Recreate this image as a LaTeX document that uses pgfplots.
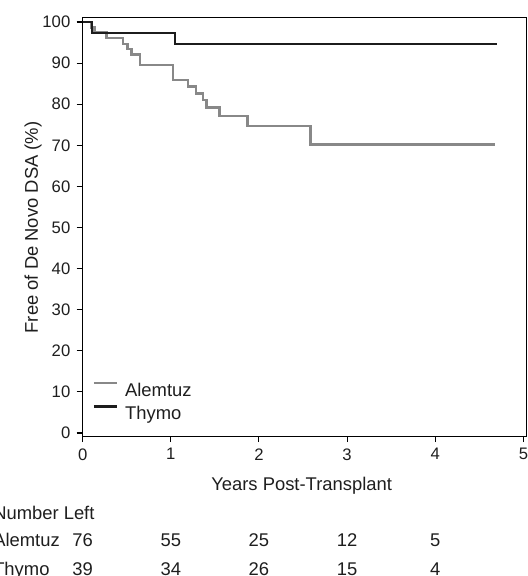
\documentclass[border=0pt]{standalone}
\usepackage{fontspec}
\setmainfont{Liberation Sans}
\usepackage{pgfplots}
\pgfplotsset{compat=1.18}
\definecolor{alem}{RGB}{136,136,136}
\definecolor{thy}{RGB}{28,28,28}
\definecolor{txt}{RGB}{30,30,30}
\begin{document}
\fontsize{13.8pt}{16pt}\selectfont
\begin{tikzpicture}
\begin{axis}[
  scale only axis, width=333.2pt, height=314.3pt,
  xmin=0, xmax=5.04, ymin=-0.75, ymax=101.2,
  xtick={0,1,2,3,4,5}, ytick={0,10,...,100},
  tick align=outside, xtick pos=bottom, ytick pos=left,
  major tick length=4.5pt,
  axis line style={line width=0.8pt, black},
  every tick/.style={line width=0.8pt, black},
  /pgf/number format/assume math mode=true,
  tick label style={text=txt, font=\fontsize{12.5pt}{14pt}\selectfont},
  clip=false,
  xlabel={Years Post-Transplant},
  ylabel={Free of De Novo DSA (\%)},
  xlabel style={at={(axis description cs:0.4929,-0.1192)}, anchor=center, text=txt},
  ylabel style={at={(axis description cs:-0.1118,0.4978)}, anchor=center, text=txt},
  legend style={at={(axis cs:0.114,3.24)}, anchor=south west, draw=none, fill=none,
    inner sep=0pt, outer sep=0pt, row sep=6.5pt,
    nodes={inner sep=0pt, text height=10pt, text depth=0pt, text=txt},
    /tikz/every odd column/.append style={column sep=5pt}},
  legend cell align=left,
  legend image code/.code={\draw[#1] (0pt,5pt) -- (17.5pt,5pt);},
]
\addplot[const plot, color=alem, line width=1.8pt] coordinates {
  (0,100) (0.098,98.7) (0.135,97.4) (0.271,96.1) (0.457,94.7) (0.510,93.4)
  (0.552,92.1) (0.649,89.5) (1.026,85.9) (1.194,84.3) (1.284,82.6) (1.368,81.0)
  (1.403,79.2) (1.552,77.1) (1.869,74.7) (2.584,70.2) (4.678,70.2)
};
\addlegendentry{Alemtuz}
\addplot[const plot, color=thy, line width=1.8pt] coordinates {
  (0,100) (0.108,97.3) (1.046,94.6) (4.698,94.6)
};
\addlegendentry{Thymo}
% number at risk table
\node[anchor=base west, inner sep=0pt, text=txt] at (axis cs:-1.0175,-21.0) {Number Left};
\node[anchor=base west, inner sep=0pt, text=txt] at (axis cs:-1.0175,-27.7) {Alemtuz};
\node[anchor=base west, inner sep=0pt, text=txt] at (axis cs:-1.0175,-34.55) {Thymo};
\node[anchor=base, inner sep=0pt, text=txt] at (axis cs:0,-27.7) {76};
\node[anchor=base, inner sep=0pt, text=txt] at (axis cs:1,-27.7) {55};
\node[anchor=base, inner sep=0pt, text=txt] at (axis cs:2,-27.7) {25};
\node[anchor=base, inner sep=0pt, text=txt] at (axis cs:3,-27.7) {12};
\node[anchor=base, inner sep=0pt, text=txt] at (axis cs:4,-27.7) {5};
\node[anchor=base, inner sep=0pt, text=txt] at (axis cs:0,-34.55) {39};
\node[anchor=base, inner sep=0pt, text=txt] at (axis cs:1,-34.55) {34};
\node[anchor=base, inner sep=0pt, text=txt] at (axis cs:2,-34.55) {26};
\node[anchor=base, inner sep=0pt, text=txt] at (axis cs:3,-34.55) {15};
\node[anchor=base, inner sep=0pt, text=txt] at (axis cs:4,-34.55) {4};
\coordinate (bl) at (axis cs:-0.938,-34.79);
\coordinate (tr) at (axis cs:5.051,105.35);
\end{axis}
\pgfresetboundingbox
\path[use as bounding box] (bl) rectangle (tr);
\end{tikzpicture}
\end{document}
